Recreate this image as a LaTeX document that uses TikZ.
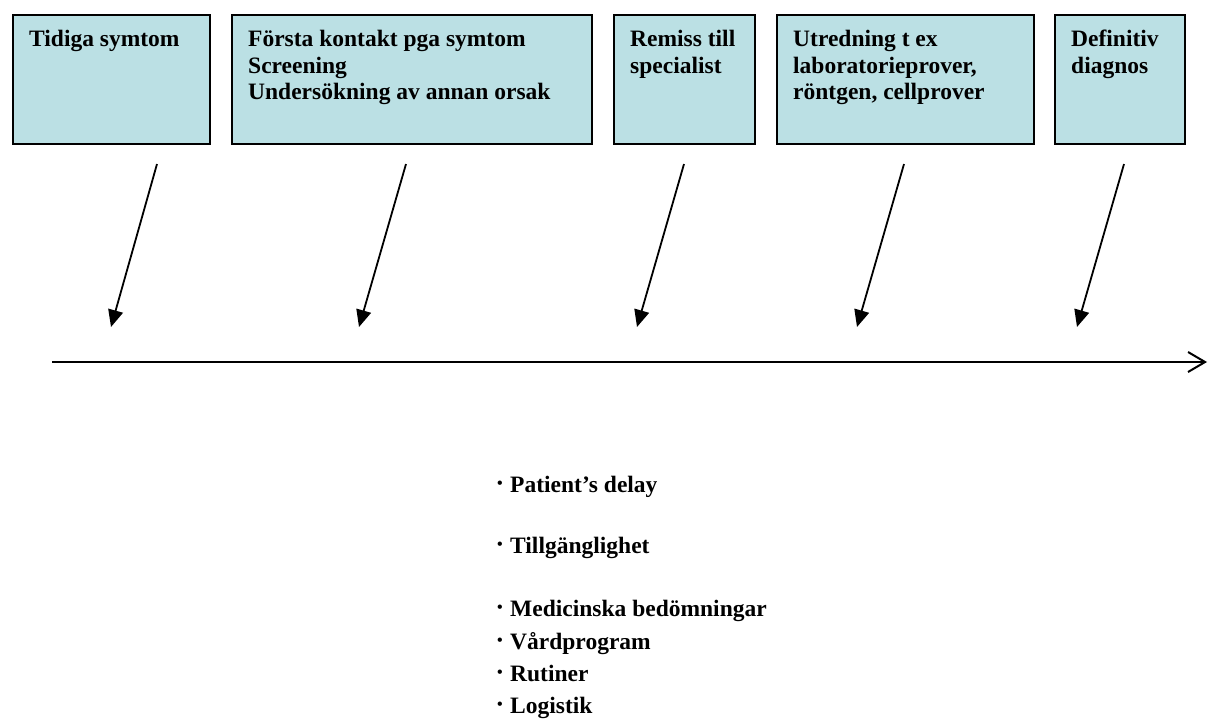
\documentclass[tikz,border=0pt]{standalone}
\usepackage{fontspec}
\setmainfont{Liberation Serif}
\usetikzlibrary{arrows.meta}
\definecolor{boxfill}{RGB}{187,224,228}
\newcommand{\blt}{\makebox[13pt][l]{\fontsize{16}{16}\selectfont\raisebox{4pt}{•}}}
\begin{document}
\begin{tikzpicture}[x=1pt,y=-1pt,
  stage/.style={draw=black, line width=2pt, fill=boxfill, anchor=north west, inner sep=0pt},
  stagetext/.style={anchor=north west, inner sep=0pt, align=left, font=\fontsize{23.5}{26.5}\selectfont\bfseries},
  pointer/.style={line width=1.8pt, -{Triangle[length=17pt,width=15pt]}},
  timeline/.style={line width=2pt, -{Straight Barb[length=17pt,width=20pt,line width=2pt]}},
  item/.style={anchor=base west, inner sep=0pt, font=\fontsize{23.5}{26}\selectfont\bfseries}]
\useasboundingbox (0,0) rectangle (1209,724);

% stage boxes
\node[stage, minimum width=197pt, minimum height=129pt] (b1) at (12,14) {};
\node[stage, minimum width=360pt, minimum height=129pt] (b2) at (231,14) {};
\node[stage, minimum width=141pt, minimum height=129pt] (b3) at (613,14) {};
\node[stage, minimum width=257pt, minimum height=129pt] (b4) at (776,14) {};
\node[stage, minimum width=130pt, minimum height=129pt] (b5) at (1054,14) {};

% stage texts
\node[stagetext] (t1) at (29,30) {Tidiga symtom};
\node[stagetext] (t2) at (248,30) {Första kontakt pga symtom\\Screening\\Undersökning av annan orsak};
\node[stagetext] (t3) at (630,30) {Remiss till\\specialist};
\node[stagetext] (t4) at (793,30) {Utredning t ex\\laboratorieprover,\\röntgen, cellprover};
\node[stagetext] (t5) at (1071,30) {Definitiv\\diagnos};

% pointers
\coordinate (p1s) at (157,164); \coordinate (p1e) at (111,327);
\coordinate (p2s) at (406,164); \coordinate (p2e) at (359,327);
\coordinate (p3s) at (684,164); \coordinate (p3e) at (637,327);
\coordinate (p4s) at (904,164); \coordinate (p4e) at (857,327);
\coordinate (p5s) at (1124,164); \coordinate (p5e) at (1077,327);
\draw[pointer] (p1s) -- (p1e);
\draw[pointer] (p2s) -- (p2e);
\draw[pointer] (p3s) -- (p3e);
\draw[pointer] (p4s) -- (p4e);
\draw[pointer] (p5s) -- (p5e);

% time line
\coordinate (ls) at (52,362);
\coordinate (le) at (1207,362);
\draw[timeline] (ls) -- (le);

% factors
\node[item] (f1) at (497,492) {\blt Patient’s delay};
\node[item] (f2) at (497,553) {\blt Tillgänglighet};
\node[item] (f3) at (497,616) {\blt Medicinska bedömningar};
\node[item] (f4) at (497,649) {\blt Vårdprogram};
\node[item] (f5) at (497,681) {\blt Rutiner};
\node[item] (f6) at (497,713) {\blt Logistik};
\end{tikzpicture}
\end{document}
